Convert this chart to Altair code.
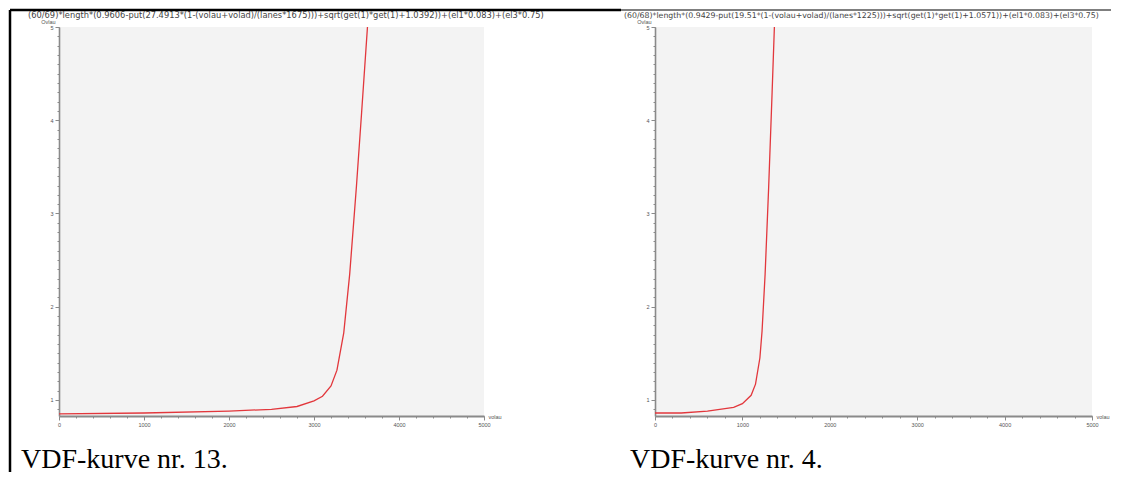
import altair as alt
import pandas as pd

# ---------------- data ----------------
left_title = "(60/69)*length*(0.9606-put(27.4913*(1-(volau+volad)/(lanes*1675)))+sqrt(get(1)*get(1)+1.0392))+(el1*0.083)+(el3*0.75)"
right_title = "(60/68)*length*(0.9429-put(19.51*(1-(volau+volad)/(lanes*1225)))+sqrt(get(1)*get(1)+1.0571))+(el1*0.083)+(el3*0.75)"
left_caption = "VDF-kurve nr. 13."
right_caption = "VDF-kurve nr. 4."
y_title = "Ovlau"
x_title = "volau"

left_vol = [0, 1000, 2000, 2500, 2800, 3000, 3100, 3200, 3270, 3350, 3420, 3500, 3560, 3629]
left_val = [0.85, 0.86, 0.88, 0.90, 0.93, 0.99, 1.04, 1.15, 1.32, 1.72, 2.35, 3.30, 4.08, 5.00]

right_vol = [0, 300, 600, 900, 1000, 1100, 1150, 1200, 1225, 1260, 1300, 1340, 1366]
right_val = [0.86, 0.86, 0.88, 0.92, 0.96, 1.05, 1.17, 1.45, 1.74, 2.35, 3.27, 4.30, 5.00]

x_major = [0, 1000, 2000, 3000, 4000, 5000]
x_minor = [i * 200 for i in range(26)]
y_major = [1, 2, 3, 4, 5]
y_minor = [round(0.9 + 0.1 * i, 1) for i in range(42)]

X_DOMAIN = [0, 5000]
Y_DOMAIN = [0.828, 5.0]
H = 389

AX_COL = "#8a8a8a"
LAB_COL = "#555555"


def panel(vol, val, title, title_size, caption, width, caption_dx, draw_border):
    df = pd.DataFrame({"vol": vol, "val": val})
    xs = alt.Scale(domain=X_DOMAIN, nice=False, zero=False)
    ys = alt.Scale(domain=Y_DOMAIN, nice=False, zero=False)

    major_x = alt.Axis(values=x_major, orient="bottom", format="d", grid=False,
                       title=x_title, titleX=width + 4, titleY=0, titleAlign="left",
                       titleBaseline="middle", titleFontSize=5.5, titleFontWeight="normal",
                       titleColor=LAB_COL, titleFont="Liberation Sans",
                       labelFontSize=5.5, labelColor=LAB_COL, labelFont="Liberation Sans",
                       labelFlush=False, labelOverlap=False, labelPadding=2,
                       tickSize=4, tickColor=AX_COL, tickWidth=1,
                       domainColor=AX_COL, domainWidth=1.8)
    major_y = alt.Axis(values=y_major, orient="left", format="d", grid=False,
                       title=y_title, titleAngle=0, titleX=-11, titleY=-6,
                       titleAlign="center", titleBaseline="middle", titleFontSize=5.5,
                       titleFontWeight="normal", titleColor=LAB_COL, titleFont="Liberation Sans",
                       labelFontSize=5.5, labelColor=LAB_COL, labelFont="Liberation Sans",
                       labelFlush=False, labelOverlap=False, labelPadding=2,
                       tickSize=4, tickColor=AX_COL, tickWidth=1,
                       domainColor=AX_COL, domainWidth=1.6)
    minor_x = alt.Axis(values=x_minor, orient="bottom", grid=False, labels=False,
                       title=None, domain=False, tickSize=2, tickColor=AX_COL, tickWidth=1)
    minor_y = alt.Axis(values=y_minor, orient="left", grid=False, labels=False,
                       title=None, domain=False, tickSize=2, tickColor=AX_COL, tickWidth=1)

    line = alt.Chart(df).mark_line(color="#e2373c", strokeWidth=1.3).encode(
        x=alt.X("vol:Q", scale=xs, axis=major_x),
        y=alt.Y("val:Q", scale=ys, axis=major_y),
    )
    minor = alt.Chart(df).mark_point(opacity=0).encode(
        x=alt.X("vol:Q", scale=xs, axis=minor_x),
        y=alt.Y("val:Q", scale=ys, axis=minor_y),
    )

    tdf = pd.DataFrame({"t": [title]})
    title_layer = alt.Chart(tdf).mark_text(
        align="left", baseline="middle", font="DejaVu Sans", fontSize=title_size, color="#444444"
    ).encode(text="t:N", x=alt.value(-31), y=alt.value(-11))

    cdf = pd.DataFrame({"t": [caption]})
    cap_layer = alt.Chart(cdf).mark_text(
        align="left", baseline="alphabetic", font="Liberation Serif", fontSize=28, color="#000000"
    ).encode(text="t:N", x=alt.value(caption_dx), y=alt.value(441))

    layers = [line, minor, title_layer, cap_layer]

    if draw_border:
        bdf = pd.DataFrame({"k": [0]})
        left_b = alt.Chart(bdf).mark_rule(color="black", strokeWidth=2.5).encode(
            x=alt.value(-49), y=alt.value(-17), y2=alt.value(445))
        top_b = alt.Chart(bdf).mark_rule(color="black", strokeWidth=2.5).encode(
            x=alt.value(-49), x2=alt.value(562), y=alt.value(-17))
        top_b2 = alt.Chart(bdf).mark_rule(color="black", strokeWidth=1.2).encode(
            x=alt.value(562), x2=alt.value(1052), y=alt.value(-17))
        layers += [left_b, top_b, top_b2]

    return alt.layer(*layers).resolve_axis(x="independent", y="independent").properties(
        width=width, height=H)


left = panel(left_vol, left_val, left_title, 8.3, left_caption, 425, -38, True)
right = panel(right_vol, right_val, right_title, 7.8, right_caption, 437, -25, False)

chart = alt.hconcat(left, right, spacing=171, bounds="flush").properties(
    padding=0
).configure_view(fill="#f3f3f3", strokeWidth=0)

chart.save("out.html", embed_options={"renderer": "svg", "actions": False})
